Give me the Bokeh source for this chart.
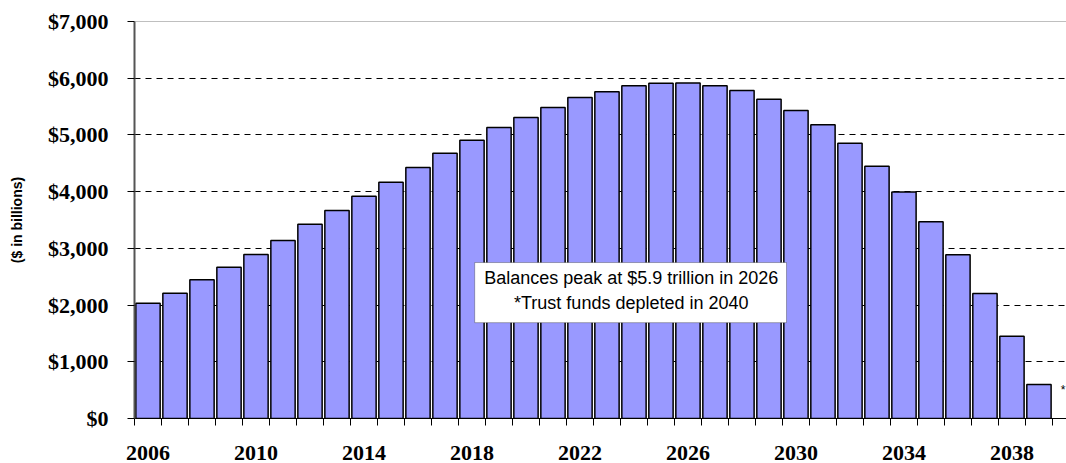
from bokeh.plotting import figure
from bokeh.models import (Range1d, FixedTicker, NumeralTickFormatter, BoxAnnotation,
                          Label, Span)
from bokeh.embed import file_html
from bokeh.resources import INLINE

# ---- data ----
years = list(range(2006, 2040))
balances = [2033, 2210, 2445, 2668, 2892, 3139, 3427, 3668, 3920, 4167,
            4426, 4679, 4908, 5131, 5308, 5484, 5660, 5760, 5866, 5910,
            5915, 5866, 5784, 5631, 5431, 5179, 4855, 4449, 3995, 3468,
            2886, 2204, 1452, 600]
x_label_years = [2006, 2010, 2014, 2018, 2022, 2026, 2030, 2034, 2038]
y_ticks = [0, 1000, 2000, 3000, 4000, 5000, 6000, 7000]
y_title = "($ in billions)"
note_line1 = "Balances peak at $5.9 trillion in 2026"
note_line2 = "*Trust funds depleted in 2040"
depletion_year = 2040

# ---- layout constants ----
Y_MAX = 7000
X_START = years[0] - 0.5
X_END = 2040.02

p = figure(width=1066, height=463, output_backend="svg", toolbar_location=None,
           x_range=Range1d(X_START, X_END), y_range=Range1d(0, Y_MAX),
           min_border_left=134, min_border_right=0, min_border_top=21,
           min_border_bottom=45)
p.outline_line_color = None
p.background_fill_color = "white"
p.border_fill_color = "white"

p.vbar(x=years, top=balances, width=0.9, fill_color="#9999FF",
       line_color="black", line_width=1.5)

# top border line
p.add_layout(Span(location=Y_MAX, dimension="width", line_color="#808080",
                  line_width=1))

# grid
p.xgrid.visible = False
p.ygrid.ticker = FixedTicker(ticks=y_ticks[1:-1])
p.ygrid.grid_line_color = "black"
p.ygrid.grid_line_dash = "6 5"
p.ygrid.grid_line_width = 1

# x axis
xa = p.xaxis[0]
xa.ticker = FixedTicker(ticks=x_label_years,
                        minor_ticks=[y - 0.5 for y in years] + [years[-1] + 0.5])
xa.major_tick_out = 0
xa.major_tick_in = 0
xa.minor_tick_out = 7
xa.minor_tick_in = 0
xa.minor_tick_line_color = "black"
xa.axis_line_color = "black"
xa.axis_line_width = 1
xa.major_label_standoff = 20
xa.major_label_text_font = "Liberation Serif"
xa.major_label_text_font_style = "bold"
xa.major_label_text_font_size = "22px"
xa.major_label_text_color = "black"

# y axis
ya = p.yaxis[0]
ya.ticker = FixedTicker(ticks=y_ticks, minor_ticks=[])
ya.formatter = NumeralTickFormatter(format="$0,0")
ya.major_tick_out = 7
ya.major_tick_in = 0
ya.major_tick_line_color = "black"
ya.axis_line_color = "#555555"
ya.axis_line_width = 2
ya.major_label_standoff = 19
ya.major_label_text_font = "Liberation Serif"
ya.major_label_text_font_style = "bold"
ya.major_label_text_font_size = "22px"
ya.major_label_text_color = "black"
ya.axis_label = y_title
ya.axis_label_text_font = "Liberation Sans"
ya.axis_label_text_font_style = "bold"
ya.axis_label_text_font_size = "14px"
ya.axis_label_text_color = "black"
ya.axis_label_standoff = 20

# note box
p.add_layout(BoxAnnotation(left=2018.1, right=2029.65, bottom=1690, top=2750,
                           fill_color="white", fill_alpha=1.0,
                           line_color="black", line_width=1))
p.add_layout(Label(x=2023.9, y=2486, text=note_line1, text_align="center",
                   text_baseline="middle", text_font="Liberation Sans",
                   text_font_size="18px", text_color="black"))
p.add_layout(Label(x=2023.9, y=2045, text=note_line2, text_align="center",
                   text_baseline="middle", text_font="Liberation Sans",
                   text_font_size="18px", text_color="black"))
p.add_layout(Label(x=depletion_year, y=500, x_offset=-3, text="*",
                   text_align="center", text_baseline="middle",
                   text_font="Liberation Sans", text_font_size="12px",
                   text_color="black"))

open("out.html", "w").write(file_html(p, INLINE))
